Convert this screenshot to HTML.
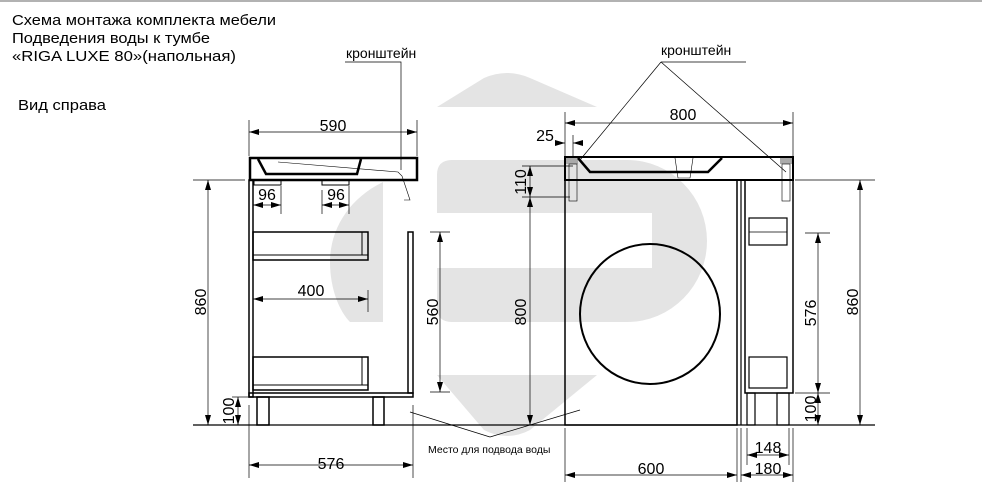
<!DOCTYPE html>
<html><head><meta charset="utf-8"><style>
html,body{margin:0;padding:0;background:#fff;}
svg{display:block;font-family:"Liberation Sans","DejaVu Sans",sans-serif;}
</style></head><body>
<svg width="982" height="488" viewBox="0 0 982 488" xmlns="http://www.w3.org/2000/svg">
<defs>
<marker id="a" viewBox="0 0 10 6" refX="10" refY="3" markerWidth="10" markerHeight="6" orient="auto-start-reverse" markerUnits="userSpaceOnUse"><path d="M0,0 L10,3 L0,6 Z" fill="#000"/></marker>
</defs>
<line x1="0" y1="1" x2="982" y2="1" stroke="#999" stroke-width="1.5"/>
<!-- watermark -->
<g fill="#e4e4e4">
<path d="M437,107 L597,107 L530,78 Q507,68 484,78 Z"/>
<path d="M452,160 H627 A80,81 0 0 1 627,322 H452 Q437,322 437,307 V175 Q437,160 452,160 Z"/>
<path d="M383,182 C350,198 330,228 330,262 C330,290 340,312 350,322 H383 Z"/>
<path d="M437,375 L597,375 L530,430 Q507,442 484,430 Z"/>
</g>
<rect x="437" y="213" width="215" height="55" fill="#fff"/>
<!-- header -->
<g font-size="14.5" fill="#000">
<text x="12" y="25" textLength="264" lengthAdjust="spacingAndGlyphs">Схема монтажа комплекта мебели</text>
<text x="12" y="43" textLength="198" lengthAdjust="spacingAndGlyphs">Подведения воды к тумбе</text>
<text x="12" y="61" textLength="224" lengthAdjust="spacingAndGlyphs">«RIGA  LUXE 80»(напольная)</text>
<text x="18" y="110" textLength="88" lengthAdjust="spacingAndGlyphs">Вид справа</text>
</g>
<g stroke="#000" fill="none">
<line x1="193" y1="425" x2="875" y2="425" stroke-width="1.2"/>
<!-- LEFT VIEW -->
<rect x="250" y="158" width="167" height="22" stroke-width="2.5"/>
<path d="M258,159 L266,174 L357,174 L361,159" stroke-width="2.5"/>
<path d="M278,162 L398,172 L402,176 L410,200 L404,200" stroke-width="0.6"/>
<rect x="249" y="180" width="4" height="217" stroke-width="1.5"/>
<rect x="249" y="393" width="164" height="4" stroke-width="1.5"/>
<rect x="408" y="232" width="5" height="161" stroke-width="1.5"/>
<rect x="254" y="180" width="27" height="5" stroke-width="1"/>
<rect x="322" y="180" width="27" height="5" stroke-width="1"/>
<rect x="253" y="232" width="115" height="28" stroke-width="1.5"/>
<line x1="362" y1="232" x2="362" y2="255" stroke-width="1"/>
<line x1="253" y1="255" x2="368" y2="255" stroke-width="1"/>
<rect x="253" y="357" width="115" height="33" stroke-width="1.5"/>
<line x1="362" y1="357" x2="362" y2="385" stroke-width="1"/>
<line x1="253" y1="385" x2="368" y2="385" stroke-width="1"/>
<rect x="257" y="397" width="12" height="28" stroke-width="1.5"/>
<rect x="373" y="397" width="11" height="28" stroke-width="1.5"/>
<g stroke-width="0.7">
<line x1="249" y1="120" x2="249" y2="156"/><line x1="417" y1="120" x2="417" y2="156"/>
<line x1="249" y1="132" x2="417" y2="132" marker-start="url(#a)" marker-end="url(#a)"/>
<line x1="193" y1="180" x2="245" y2="180"/>
<line x1="208" y1="180" x2="208" y2="425" marker-start="url(#a)" marker-end="url(#a)"/>
<line x1="232" y1="397" x2="248" y2="397"/>
<line x1="238" y1="397" x2="238" y2="425" marker-start="url(#a)" marker-end="url(#a)"/>
<line x1="281" y1="186" x2="281" y2="214"/><line x1="322" y1="190" x2="322" y2="214"/><line x1="349" y1="186" x2="349" y2="214"/>
<line x1="253" y1="205" x2="281" y2="205" marker-start="url(#a)" marker-end="url(#a)"/>
<line x1="322" y1="205" x2="349" y2="205" marker-start="url(#a)" marker-end="url(#a)"/>
<line x1="368" y1="290" x2="368" y2="312"/>
<line x1="253" y1="299" x2="368" y2="299" marker-start="url(#a)" marker-end="url(#a)"/>
<line x1="249" y1="405" x2="249" y2="478"/><line x1="413" y1="405" x2="413" y2="478"/>
<line x1="249" y1="465" x2="413" y2="465" marker-start="url(#a)" marker-end="url(#a)"/>
<line x1="430" y1="232" x2="450" y2="232"/><line x1="430" y1="392" x2="450" y2="392"/>
<line x1="440" y1="232" x2="440" y2="392" marker-start="url(#a)" marker-end="url(#a)"/>
<polyline points="345,62 401,62 401,170"/>
<line x1="410" y1="412" x2="490" y2="437"/><line x1="580" y1="410" x2="490" y2="437"/>
</g>
<!-- RIGHT VIEW -->
<rect x="565" y="157" width="228" height="23" stroke-width="2"/>
<rect x="566" y="158" width="12" height="6" fill="#aaa" stroke="none"/>
<rect x="780" y="158" width="12" height="6" fill="#aaa" stroke="none"/>
<path d="M578,158 L590,172 L708,172 L722,158" stroke-width="2.5"/>
<path d="M675,158 L678,178 L690,178 L693,158" stroke-width="0.6"/>
<rect x="569" y="164" width="8" height="37" stroke-width="0.6"/>
<rect x="782" y="164" width="8" height="37" stroke-width="0.6"/>
<rect x="565" y="180" width="172" height="245" stroke-width="1.5"/>
<circle cx="650" cy="314" r="70" stroke-width="2"/>
<line x1="741" y1="180" x2="741" y2="425" stroke-width="1.2"/>
<rect x="745" y="180" width="48" height="213" stroke-width="1.5"/>
<rect x="749" y="218" width="38" height="27" stroke-width="1.2"/>
<line x1="749" y1="232" x2="787" y2="232" stroke-width="0.7"/>
<rect x="749" y="357" width="38" height="31" stroke-width="1.2"/>
<line x1="749" y1="388" x2="787" y2="388" stroke-width="0.7"/>
<rect x="747" y="393" width="8" height="32" stroke-width="1.2"/>
<rect x="777" y="393" width="12" height="32" stroke-width="1.2"/>
<g stroke-width="0.7">
<line x1="565" y1="112" x2="565" y2="156"/><line x1="793" y1="112" x2="793" y2="156"/>
<line x1="565" y1="123" x2="793" y2="123" marker-start="url(#a)" marker-end="url(#a)"/>
<line x1="573" y1="135" x2="573" y2="157"/>
<line x1="555" y1="143" x2="565" y2="143" marker-end="url(#a)"/>
<line x1="583" y1="143" x2="573" y2="143" marker-end="url(#a)"/>
<line x1="522" y1="166" x2="573" y2="166"/><line x1="522" y1="197" x2="570" y2="197"/>
<line x1="530" y1="166" x2="530" y2="197" marker-start="url(#a)" marker-end="url(#a)"/>
<line x1="530" y1="197" x2="530" y2="425" marker-start="url(#a)" marker-end="url(#a)"/>
<line x1="795" y1="180" x2="875" y2="180"/>
<line x1="860" y1="180" x2="860" y2="425" marker-start="url(#a)" marker-end="url(#a)"/>
<line x1="805" y1="233" x2="830" y2="233"/><line x1="795" y1="393" x2="830" y2="393"/>
<line x1="818" y1="233" x2="818" y2="393" marker-start="url(#a)" marker-end="url(#a)"/>
<line x1="818" y1="393" x2="818" y2="425" marker-start="url(#a)" marker-end="url(#a)"/>
<line x1="565" y1="428" x2="565" y2="482"/><line x1="737" y1="428" x2="737" y2="482"/>
<line x1="741" y1="428" x2="741" y2="482"/><line x1="747" y1="428" x2="747" y2="465"/>
<line x1="789" y1="428" x2="789" y2="465"/><line x1="793" y1="428" x2="793" y2="482"/>
<line x1="565" y1="475" x2="737" y2="475" marker-start="url(#a)" marker-end="url(#a)"/>
<line x1="747" y1="455" x2="789" y2="455" marker-start="url(#a)" marker-end="url(#a)"/>
<line x1="741" y1="475" x2="793" y2="475" marker-start="url(#a)" marker-end="url(#a)"/>
<line x1="661" y1="62" x2="746" y2="62"/>
<line x1="661" y1="62" x2="580" y2="160"/><line x1="661" y1="62" x2="786" y2="172"/>
</g>
</g>
<!-- labels -->
<g font-size="14" fill="#000">
<text x="346" y="58">кронштейн</text>
<text x="661" y="55">кронштейн</text>
</g>
<g font-size="16" fill="#000">
<text x="333" y="131" text-anchor="middle">590</text>
<text x="267" y="200" text-anchor="middle">96</text>
<text x="336" y="200" text-anchor="middle">96</text>
<text x="311" y="296" text-anchor="middle">400</text>
<text x="331" y="469" text-anchor="middle">576</text>
<text transform="translate(206,302) rotate(-90)" text-anchor="middle">860</text>
<text transform="translate(234,411) rotate(-90)" text-anchor="middle">100</text>
<text transform="translate(438,312) rotate(-90)" text-anchor="middle">560</text>
<text x="683" y="120" text-anchor="middle">800</text>
<text x="545" y="141" text-anchor="middle">25</text>
<text transform="translate(526,182) rotate(-90)" text-anchor="middle">110</text>
<text transform="translate(526,312) rotate(-90)" text-anchor="middle">800</text>
<text transform="translate(816,313) rotate(-90)" text-anchor="middle">576</text>
<text transform="translate(816,409) rotate(-90)" text-anchor="middle">100</text>
<text transform="translate(858,302) rotate(-90)" text-anchor="middle">860</text>
<text x="651" y="474" text-anchor="middle">600</text>
<text x="768" y="453" text-anchor="middle">148</text>
<text x="768" y="474" text-anchor="middle">180</text>
</g>
<text x="428" y="453" font-size="10.5" fill="#000">Место для подвода воды</text>
</svg>
</body></html>
